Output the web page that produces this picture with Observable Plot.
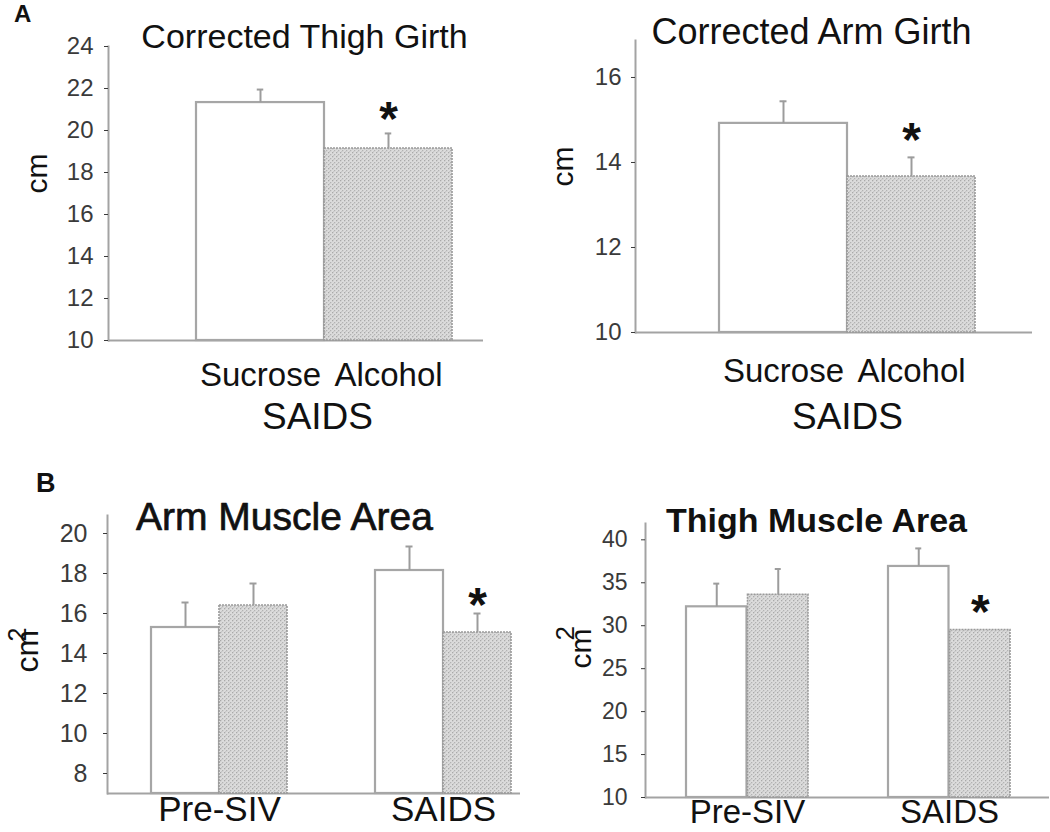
<!DOCTYPE html>
<html>
<head>
<meta charset="utf-8">
<script src="https://cdn.jsdelivr.net/npm/d3@7"></script>
<script src="https://cdn.jsdelivr.net/npm/@observablehq/plot@0.6"></script>
<style>
  html, body { margin: 0; padding: 0; background: #fff; }
  #fig { position: relative; width: 1050px; height: 832px; overflow: hidden; background: #fff;
         font-family: "Liberation Sans", Arial, sans-serif; }
  .panel { position: absolute; }
  .tag { position: absolute; font-weight: bold; color: #111; line-height: 1; }
</style>
</head>
<body>
<div id="fig">
  <svg width="0" height="0" style="position:absolute">
    <defs>
      <pattern id="hatch" width="4" height="4" patternUnits="userSpaceOnUse">
        <rect width="4" height="4" fill="#dcdcdc"></rect>
        <rect x="0" y="0" width="1.3" height="1.3" fill="#a9a9a9"></rect>
        <rect x="2" y="2" width="1.3" height="1.3" fill="#b3b3b3"></rect>
        <rect x="1" y="3" width="1" height="1" fill="#c8c8c8"></rect>
      </pattern>
    </defs>
  </svg>
  <div class="tag" style="left:14px; top:2px; font-size:24px;">A</div>
  <div class="tag" style="left:36px; top:470px; font-size:27px;">B</div>
</div>
<script>
// ---------- data ----------
const treatments = ["Sucrose", "Alcohol"];
const girthTimepoint = "SAIDS";

const thighGirthMean = [21.33, 19.14];
const thighGirthSE   = [0.62, 0.72];
const armGirthMean   = [14.92, 13.67];
const armGirthSE     = [0.52, 0.45];
const girthSignificant = [false, true];

const timepoints = ["Pre-SIV", "SAIDS"];
const armMuscleSucrose     = [15.3, 18.15];
const armMuscleSucroseSE   = [1.25, 1.2];
const armMuscleAlcohol     = [16.4, 15.05];
const armMuscleAlcoholSE   = [1.1, 0.95];
const thighMuscleSucrose   = [32.2, 36.9];
const thighMuscleSucroseSE = [2.7, 2.1];
const thighMuscleAlcohol   = [33.6, 29.5];
const thighMuscleAlcoholSE = [3.0, 0];
const muscleSignificantAlcohol = [false, true];

const thighGirthTicks  = [10, 12, 14, 16, 18, 20, 22, 24];
const armGirthTicks    = [10, 12, 14, 16];
const armMuscleTicks   = [8, 10, 12, 14, 16, 18, 20];
const thighMuscleTicks = [10, 15, 20, 25, 30, 35, 40];

const titles = ["Corrected Thigh Girth", "Corrected Arm Girth", "Arm Muscle Area", "Thigh Muscle Area"];
const lengthUnit = "cm";
const areaUnit = ["cm", "2"];

// ---------- styling ----------
const AXIS = "#a3a3a3";
const BAR_STROKE = "#a6a6a6";
const ALC_STROKE = "#9a9a9a";
const ERR = "#9c9c9c";
const FONT = "'Liberation Sans', Arial, sans-serif";

// ---------- table builders ----------
function girthRows(means, ses) {
  return treatments.map((t, i) => ({x: t, treatment: t, value: means[i], se: ses[i], sig: girthSignificant[i]}));
}
function muscleRows(suc, sucSE, alc, alcSE) {
  const rows = [];
  timepoints.forEach((tp, i) => {
    rows.push({x: tp, treatment: "Sucrose", value: suc[i], se: sucSE[i], sig: false});
    rows.push({x: tp, treatment: "Alcohol", value: alc[i], se: alcSE[i], sig: muscleSignificantAlcohol[i]});
  });
  return rows;
}

function buildPanel(c) {
  const bw = d3.scaleBand().domain(c.xDomain).range(c.xRange).paddingInner(c.pad).paddingOuter(0).bandwidth();
  const y0 = c.yDomain[0];
  const marks = [];
  marks.push(Plot.ruleY([y0], {stroke: AXIS, strokeWidth: 2}));
  marks.push(Plot.frame({anchor: "left", stroke: AXIS, strokeWidth: 2}));
  marks.push(Plot.axisY({ticks: c.yTicks, tickSize: 4, tickPadding: c.tickPadding, fontSize: c.tickFont,
                         color: "#3a3a3a", label: null, tickFormat: d => String(d)}));
  const nSlots = c.slotOf.Sucrose === c.slotOf.Alcohol ? 1 : 2;
  treatments.forEach(t => {
    const slot = c.slotOf[t];
    const sub = c.rows.filter(r => r.treatment === t);
    const w = bw / nSlots;
    const iL = w * slot, iR = bw - w * (slot + 1);
    const center = w * slot + w / 2;
    const dx = center - bw / 2;
    const withErr = sub.filter(r => r.se > 0);
    marks.push(Plot.barY(sub, {
      x: "x", y1: () => y0, y2: "value", insetLeft: iL, insetRight: iR,
      fill: t === "Sucrose" ? "white" : "url(#hatch)",
      stroke: t === "Sucrose" ? BAR_STROKE : ALC_STROKE,
      strokeWidth: t === "Sucrose" ? 2.2 : 1.6,
      strokeDasharray: t === "Sucrose" ? null : "2,1"
    }));
    marks.push(Plot.ruleX(withErr, {x: "x", y1: "value", y2: d => d.value + d.se, dx, stroke: ERR, strokeWidth: 2}));
    marks.push(Plot.tickY(withErr, {x: "x", y: d => d.value + d.se, insetLeft: center - 3.5, insetRight: bw - center - 3.5,
                                    stroke: ERR, strokeWidth: 2}));
    marks.push(Plot.text(sub.filter(r => r.sig), {
      x: "x", y: d => d.value + d.se, dx, dy: -c.starGap + 12, text: () => "*",
      fontSize: 48, fontWeight: "bold", fill: "#111", lineAnchor: "middle"
    }));
  });
  marks.push(Plot.text(c.xDomain, {x: d => d, frameAnchor: "bottom", lineAnchor: "top", dy: c.xLabelDy,
                                   fontSize: c.xLabelFont, fill: "#111"}));
  if (c.subLabel) {
    marks.push(Plot.text([c.subLabel], {frameAnchor: "bottom", lineAnchor: "top", dx: c.subDx, dy: c.subDy,
                                        fontSize: c.subFont, fill: "#111"}));
  }
  marks.push(Plot.text([c.title], {frameAnchor: "top", lineAnchor: "top", dx: c.titleDx, dy: c.titleDy,
                                   fontSize: c.titleFont, fontWeight: c.titleWeight || "normal", fill: "#111",
                                   stroke: c.titleStroke ? "#111" : null, strokeWidth: c.titleStroke || null}));
  c.yLabels.forEach(l => {
    marks.push(Plot.text([l.text], {frameAnchor: "left", rotate: -90, dx: l.dx, dy: l.dy || 0,
                                    fontSize: l.size, fill: "#111", lineAnchor: "middle"}));
  });

  const svg = Plot.plot({
    width: c.width, height: c.height,
    marginTop: c.m[0], marginRight: c.m[1], marginBottom: c.m[2], marginLeft: c.m[3],
    x: {type: "band", domain: c.xDomain, range: c.xRange, paddingInner: c.pad, paddingOuter: 0, axis: null},
    y: {domain: c.yDomain},
    style: {fontFamily: FONT, background: "transparent", color: "#222", overflow: "visible"},
    marks
  });
  const div = document.createElement("div");
  div.className = "panel";
  div.style.left = c.left + "px";
  div.style.top = c.top + "px";
  div.appendChild(svg);
  document.getElementById("fig").appendChild(div);
}

buildPanel({
  left: 0, top: 0, width: 520, height: 440, m: [46, 37, 100, 108],
  rows: girthRows(thighGirthMean, thighGirthSE), slotOf: {Sucrose: 0, Alcohol: 0},
  xDomain: treatments, xRange: [195, 452], pad: 0,
  yDomain: [10, 24], yTicks: thighGirthTicks, tickPadding: 11, tickFont: 24,
  title: titles[0], titleFont: 34, titleDx: 8.5, titleDy: -23,
  xLabelFont: 33, xLabelDy: 22, subLabel: girthTimepoint, subFont: 37, subDx: 21.5, subDy: 62,
  yLabels: [{text: lengthUnit, dx: -71, size: 30}], starGap: 26
});

buildPanel({
  left: 520, top: 0, width: 530, height: 440, m: [40, 18, 108, 115],
  rows: girthRows(armGirthMean, armGirthSE), slotOf: {Sucrose: 0, Alcohol: 0},
  xDomain: treatments, xRange: [199, 455], pad: 0,
  yDomain: [10, 16.87], yTicks: armGirthTicks, tickPadding: 10, tickFont: 24,
  title: titles[1], titleFont: 36, titleDx: -22.5, titleDy: -22,
  xLabelFont: 33, xLabelDy: 26, subLabel: girthTimepoint, subFont: 37, subDx: 13.5, subDy: 70,
  yLabels: [{text: lengthUnit, dx: -72, size: 30}], starGap: 29
});

buildPanel({
  left: 0, top: 440, width: 525, height: 392, m: [75, 5, 39, 107],
  rows: muscleRows(armMuscleSucrose, armMuscleSucroseSE, armMuscleAlcohol, armMuscleAlcoholSE),
  slotOf: {Sucrose: 0, Alcohol: 1},
  xDomain: timepoints, xRange: [151, 511], pad: 0.393,
  yDomain: [7, 20.9], yTicks: armMuscleTicks, tickPadding: 16, tickFont: 25,
  title: titles[2], titleFont: 39, titleDx: -29.5, titleDy: -13, titleStroke: 0.7,
  xLabelFont: 35, xLabelDy: 3,
  yLabels: [{text: areaUnit[0], dx: -80, dy: 18, size: 32}, {text: areaUnit[1], dx: -90, dy: -13, size: 25}],
  starGap: 20
});

buildPanel({
  left: 525, top: 440, width: 525, height: 392, m: [83, 1, 35, 120],
  rows: muscleRows(thighMuscleSucrose, thighMuscleSucroseSE, thighMuscleAlcohol, thighMuscleAlcoholSE),
  slotOf: {Sucrose: 0, Alcohol: 1},
  xDomain: timepoints, xRange: [160, 486], pad: 0.394,
  yDomain: [10, 41.9], yTicks: thighMuscleTicks, tickPadding: 14, tickFont: 23,
  title: titles[3], titleFont: 34, titleWeight: "bold", titleDx: -31, titleDy: -16,
  xLabelFont: 33, xLabelDy: 2,
  yLabels: [{text: areaUnit[0], dx: -64, dy: 8, size: 30}, {text: areaUnit[1], dx: -80, dy: -20, size: 26}],
  starGap: 29
});
</script>
</body>
</html>
